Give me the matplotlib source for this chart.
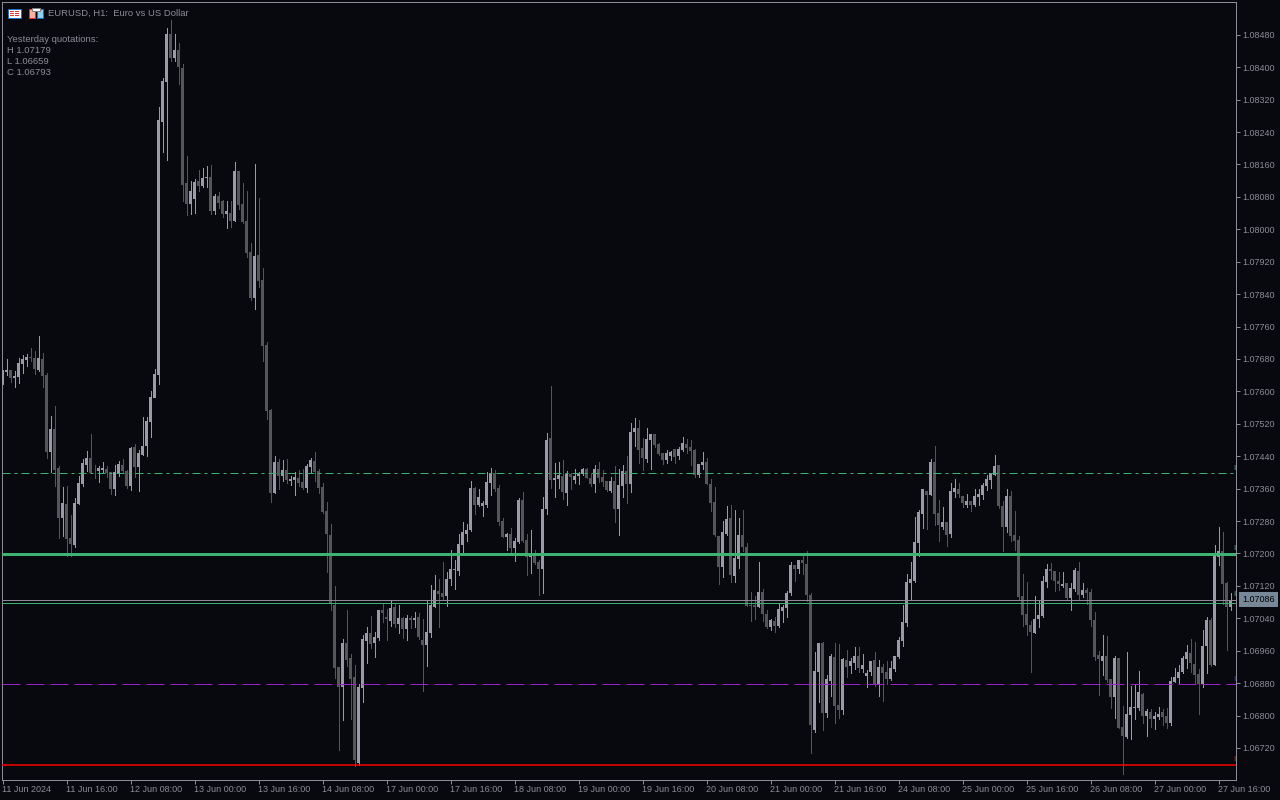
import matplotlib
matplotlib.use("Agg")
import matplotlib.pyplot as plt
from matplotlib.patches import Rectangle
import numpy as np

# EURUSD H1 candles, in points above 1.00000, 16 bars per row (one row = one time label)
opens = [
    7621,7648,7653,7633,7636,7668,7678,7685,7683,7653,7680,7641,7450,7507,7411,7287,
    7322,7238,7221,7322,7371,7418,7436,7399,7404,7406,7409,7401,7359,7399,7418,7404,
    7367,7463,7413,7443,7465,7525,7584,7641,8265,8364,8482,8423,8443,8398,8115,8063,
    8075,8119,8107,8127,8129,8045,8082,8070,8038,8040,8021,8144,8063,8021,7944,7831,
    7937,7875,7715,7554,7349,7426,7391,7406,7379,7381,7386,7377,7362,7414,7428,7404,
    7364,7305,7246,7073,6920,6870,6979,6942,6895,6683,6868,6984,7004,6979,6991,7061,
    7043,7033,7068,7026,7041,7014,7041,7036,7043,6986,6974,7004,7068,7107,7102,7095,
    7137,7159,7156,7221,7248,7258,7361,7319,7317,7319,7374,7398,7361,7280,7240,7248,
    7213,7228,7332,7233,7191,7198,7179,7161,7309,7485,7381,7384,7391,7349,7396,7381,
    7391,7396,7408,7386,7371,7408,7388,7379,7354,7379,7309,7366,7403,7371,7500,7509,
    7460,7433,7480,7495,7470,7448,7431,7440,7458,7440,7455,7470,7463,7455,7394,7418,
    7426,7371,7327,7243,7166,7248,7287,7144,7186,7245,7216,7073,7073,7068,7105,7050,
    7018,7033,7021,7058,7065,7102,7171,7161,7184,7174,7097,6764,6907,6979,6806,6885,
    6944,6826,6813,6937,6922,6929,6947,6915,6897,6907,6937,6875,6920,6907,6890,6915,
    6944,6984,7028,7127,7132,7226,7297,7354,7344,7426,7300,7265,7278,7248,7352,7359,
    7342,7320,7329,7320,7339,7344,7366,7381,7394,7418,7317,7265,7341,7245,7233,7095,
    7050,7023,7003,7038,7045,7129,7161,7156,7132,7119,7127,7090,7112,7156,7097,7109,
    7104,7035,6949,6934,6946,6890,6845,6942,6771,6746,6801,6818,6818,6853,6798,6808,
    6791,6796,6808,6798,6781,6882,6892,6907,6939,6954,6927,6902,6877,6971,7035,6924,
    7191,7206,7127,7067,
]
highs = [
    7652,7680,7653,7650,7683,7690,7692,7707,7700,7737,7695,7646,7539,7564,7416,7364,
    7367,7295,7337,7391,7433,7453,7495,7418,7416,7426,7416,7401,7418,7428,7433,7406,
    7463,7470,7455,7537,7537,7601,7655,8302,8374,8497,8517,8482,8460,8408,8181,8120,
    8124,8147,8152,8157,8159,8087,8092,8073,8070,8070,8166,8144,8115,8095,7966,8161,
    8077,7905,7722,7557,7441,7433,7431,7433,7391,7401,7406,7409,7421,7436,7451,7409,
    7374,7327,7273,7120,6920,6989,7061,6952,6925,6878,6999,7019,7046,7006,7061,7075,
    7063,7085,7075,7073,7043,7048,7046,7056,7053,7038,7085,7122,7147,7137,7179,7154,
    7208,7184,7248,7277,7272,7379,7364,7359,7329,7401,7411,7406,7369,7287,7250,7263,
    7238,7337,7351,7248,7258,7208,7184,7339,7497,7613,7423,7426,7430,7403,7398,7408,
    7401,7411,7411,7396,7418,7426,7406,7379,7388,7416,7408,7418,7440,7522,7534,7529,
    7485,7510,7495,7495,7473,7448,7455,7453,7458,7463,7487,7482,7480,7458,7421,7450,
    7435,7384,7364,7243,7280,7317,7319,7307,7287,7307,7226,7105,7095,7179,7112,7060,
    7038,7043,7075,7073,7107,7179,7171,7184,7198,7206,7102,6957,6979,6981,6900,6952,
    6979,6976,6942,6962,6942,6969,6969,6952,6912,6934,6957,6937,6927,6934,6934,6947,
    6994,7073,7149,7179,7290,7307,7359,7354,7433,7465,7332,7315,7278,7374,7384,7374,
    7342,7347,7329,7359,7359,7374,7394,7399,7443,7418,7329,7359,7354,7304,7243,7149,
    7129,7033,7095,7085,7144,7174,7176,7156,7154,7154,7127,7127,7164,7179,7127,7114,
    7112,7055,6959,6998,6996,6890,6946,6942,6823,6956,6872,6877,6909,6855,6816,6816,
    6808,6821,6816,6818,6895,6917,6924,6946,6974,6988,6981,6914,7011,7043,7040,7221,
    7265,7253,7129,7102,
]
lows = [
    7619,7641,7624,7611,7621,7646,7663,7675,7643,7650,7611,7436,7401,7367,7238,7243,
    7194,7194,7216,7322,7367,7404,7399,7386,7376,7399,7389,7347,7344,7391,7399,7362,
    7357,7389,7354,7443,7441,7487,7618,7618,8191,8171,8416,8416,8359,8070,8036,8038,
    8040,8095,8105,8105,8038,8038,8053,8031,8003,8006,8021,8050,8016,7932,7826,7803,
    7858,7675,7532,7327,7349,7359,7379,7374,7369,7344,7367,7359,7352,7401,7379,7349,
    7300,7154,7060,6893,6715,6789,6922,6791,6675,6678,6833,6930,6967,6944,6986,7031,
    6986,7021,7019,7004,6991,6986,7016,7019,6989,6861,6922,6994,7068,7019,7088,7070,
    7122,7112,7146,7201,7230,7255,7297,7317,7292,7314,7344,7354,7270,7240,7208,7201,
    7181,7226,7228,7146,7151,7174,7097,7102,7297,7361,7339,7361,7334,7319,7359,7374,
    7371,7393,7386,7366,7351,7376,7366,7354,7351,7277,7245,7339,7324,7351,7465,7423,
    7406,7426,7408,7463,7443,7421,7423,7431,7423,7433,7453,7448,7418,7389,7389,7408,
    7371,7305,7243,7124,7142,7245,7129,7129,7164,7206,7070,7033,7038,7068,7033,7016,
    7011,7006,7018,7031,7043,7097,7132,7152,7149,7082,6707,6759,6833,6764,6796,6848,
    6781,6794,6803,6895,6905,6915,6907,6907,6870,6900,6873,6848,6836,6878,6887,6910,
    6942,6971,7021,7087,7129,7194,7263,7260,7344,7270,7231,7260,7218,7240,7339,7339,
    7315,7315,7305,7317,7320,7334,7357,7361,7394,7312,7206,7253,7230,7208,7087,7021,
    6998,6907,7003,7018,7043,7117,7137,7107,7109,7117,7087,7060,7107,7085,7092,7075,
    7021,6937,6850,6900,6882,6818,6793,6769,6657,6744,6742,6791,6813,6781,6749,6771,
    6766,6791,6776,6769,6776,6882,6880,6904,6917,6907,6880,6803,6870,6904,6922,6924,
    7171,7075,6961,7060,
]
closes = [
    7650,7653,7633,7638,7670,7680,7685,7683,7655,7683,7638,7450,7507,7406,7287,7325,
    7236,7223,7325,7374,7423,7436,7399,7398,7411,7411,7399,7359,7401,7421,7404,7367,
    7460,7413,7448,7465,7527,7586,7643,8270,8366,8482,8423,8443,8401,8110,8063,8095,
    8117,8107,8127,8129,8045,8082,8065,8038,8045,8021,8144,8060,8018,7942,7831,7934,
    7873,7712,7552,7349,7426,7391,7406,7381,7384,7389,7374,7362,7416,7431,7401,7362,
    7302,7248,7075,6917,6870,6979,6937,6890,6690,6870,6989,7004,6977,6994,7061,7053,
    7038,7065,7026,7041,7014,7041,7036,7041,6994,6974,7006,7073,7110,7100,7093,7137,
    7161,7161,7223,7253,7258,7361,7319,7339,7324,7376,7398,7359,7277,7240,7248,7213,
    7230,7332,7230,7191,7198,7176,7161,7309,7480,7381,7386,7393,7351,7396,7388,7391,
    7398,7408,7386,7371,7408,7386,7376,7356,7379,7309,7369,7403,7371,7500,7509,7455,
    7435,7482,7495,7468,7445,7431,7448,7450,7438,7458,7473,7460,7453,7394,7421,7426,
    7371,7324,7245,7166,7253,7285,7147,7189,7245,7216,7070,7070,7068,7105,7050,7018,
    7036,7021,7063,7068,7102,7171,7161,7184,7176,7097,6776,6910,6979,6806,6890,6947,
    6823,6813,6939,6920,6934,6947,6917,6924,6905,6934,6875,6920,6905,6890,6917,6947,
    6986,7031,7129,7137,7228,7302,7359,7344,7426,7297,7270,7278,7245,7354,7361,7347,
    7324,7329,7320,7342,7347,7369,7384,7399,7416,7317,7265,7342,7243,7230,7092,7048,
    7023,7006,7038,7048,7132,7161,7156,7132,7124,7124,7090,7114,7159,7097,7109,7102,
    7035,6944,6939,6946,6887,6845,6942,6769,6749,6803,6821,6821,6858,6798,6811,6791,
    6798,6803,6796,6781,6885,6895,6907,6942,6956,6929,6900,6877,6971,7035,6924,7193,
    7206,7124,7067,7085,
]

ytick_points = list(range(6720, 8481, 80))
xtick_labels = [
    "11 Jun 2024", "11 Jun 16:00", "12 Jun 08:00", "13 Jun 00:00", "13 Jun 16:00",
    "14 Jun 08:00", "17 Jun 00:00", "17 Jun 16:00", "18 Jun 08:00", "19 Jun 00:00",
    "19 Jun 16:00", "20 Jun 08:00", "21 Jun 00:00", "21 Jun 16:00", "24 Jun 08:00",
    "25 Jun 00:00", "25 Jun 16:00", "26 Jun 08:00", "27 Jun 00:00", "27 Jun 16:00",
]
bid = 1.07086
ask = 1.07077
level_dashdot = 1.07398
level_green = 1.07199
level_purple = 1.06877
level_red = 1.06678

W, H = 1280, 800
BG = "#08090e"
GREY = "#8c8c98"
BULL = "#9a9aa8"
BEAR = "#565659"
FONT = "Liberation Sans"

plt.rcParams["font.family"] = [FONT, "DejaVu Sans"]
px = 72 / 100  # one pixel in points

fig = plt.figure(figsize=(W / 100, H / 100), dpi=100, facecolor=BG)
ax = fig.add_axes([2 / W, 1 - 780 / H, 1234 / W, 778 / H], facecolor=BG)

o = 1 + np.array(opens) / 1e5
h = 1 + np.array(highs) / 1e5
l = 1 + np.array(lows) / 1e5
c = 1 + np.array(closes) / 1e5
idx = np.arange(len(o))
up = c >= o

# wicks then bodies
ax.vlines(idx[up], l[up], h[up], color=BULL, lw=px, antialiased=False, zorder=2)
ax.vlines(idx[~up], l[~up], h[~up], color=BEAR, lw=px, antialiased=False, zorder=2)
ax.bar(idx[up], (c - o)[up], bottom=o[up], width=0.78, color=BULL, antialiased=False, zorder=3)
ax.bar(idx[~up], (o - c)[~up], bottom=c[~up], width=0.78, color=BEAR, antialiased=False, zorder=3)

# price levels
ax.axhline(level_dashdot, color="#3cb371", lw=px, ls=(0, (8, 4, 3, 4)), zorder=4)
ax.axhline(level_green, color="#3cb371", lw=3 * px, zorder=4)
ax.axhline(ask, color="#3cb371", lw=px, zorder=4)
ax.axhline(bid, color=GREY, lw=px, zorder=4)
ax.axhline(level_purple, color="#9a20d0", lw=px, ls=(0, (18, 6)), zorder=4)
ax.axhline(level_red, color="#ff0000", lw=1.5 * px, zorder=4)

# small marks at the right end of the levels
for lev, col in [(level_dashdot, "#3cb371"), (level_green, "#3cb371"), (bid, "#3cb371"),
                 (level_purple, "#4040c0"), (level_red, "#e02020")]:
    ax.text(308.0, lev + 0.00004, "I", color=col, fontsize=6, ha="center", va="bottom", zorder=5)

ax.set_xlim(-0.125, 308.375)
ax.set_ylim(1.06641, 1.08561)
ax.yaxis.tick_right()
ax.set_yticks([1 + p / 1e5 for p in ytick_points])
ax.set_yticklabels(["%.5f" % (1 + p / 1e5) for p in ytick_points])
ax.set_xticks(np.arange(len(xtick_labels)) * 16)
ax.set_xticklabels(xtick_labels, ha="left")
ax.tick_params(axis="both", color=GREY, labelcolor=GREY, labelsize=6.5, length=4 * px, width=px)
ax.tick_params(axis="x", pad=0.8)
ax.tick_params(axis="y", pad=1.5)
for s in ax.spines.values():
    s.set_color(GREY)
    s.set_linewidth(px)

# current price tag
ax.annotate("%.5f" % bid, xy=(1.0, bid), xycoords=("axes fraction", "data"),
            xytext=(6 * px, 0), textcoords="offset points", va="center", ha="left",
            fontsize=6.5, color="#000000", annotation_clip=False, zorder=6,
            bbox=dict(boxstyle="square,pad=0.35", fc="#778899", ec="none"))

# header text
def fig_text(x, y, s):
    fig.text(x / W, 1 - y / H, s, color=GREY, fontsize=6.8, va="center", ha="left")

fig_text(48, 13.5, "EURUSD, H1:  Euro vs US Dollar")
fig_text(7, 39.5, "Yesterday quotations:")
fig_text(7, 50.5, "H 1.07179")
fig_text(7, 61.5, "L 1.06659")
fig_text(7, 72.5, "C 1.06793")

# the two toolbar icons
def icon(x, y, w, h, fc, ec):
    fig.add_artist(Rectangle((x / W, 1 - (y + h) / H), w / W, h / H, transform=fig.transFigure,
                             fc=fc, ec=ec, lw=px))

icon(8, 9, 13, 9, "#ffffff", "#1f6fc0")
for yy in (11, 13, 15):
    icon(10, yy, 4, 1, "#e03030", "none")
    icon(15, yy, 4, 1, "#e03030", "none")
icon(29, 9, 6, 9, "#ffb0a0", "#e03030")
icon(37, 9, 6, 9, "#90d0f0", "#1f6fc0")
icon(32, 8, 8, 3, "#ffffff", "#808080")

fig.savefig("out.png", dpi=100, facecolor=BG)
